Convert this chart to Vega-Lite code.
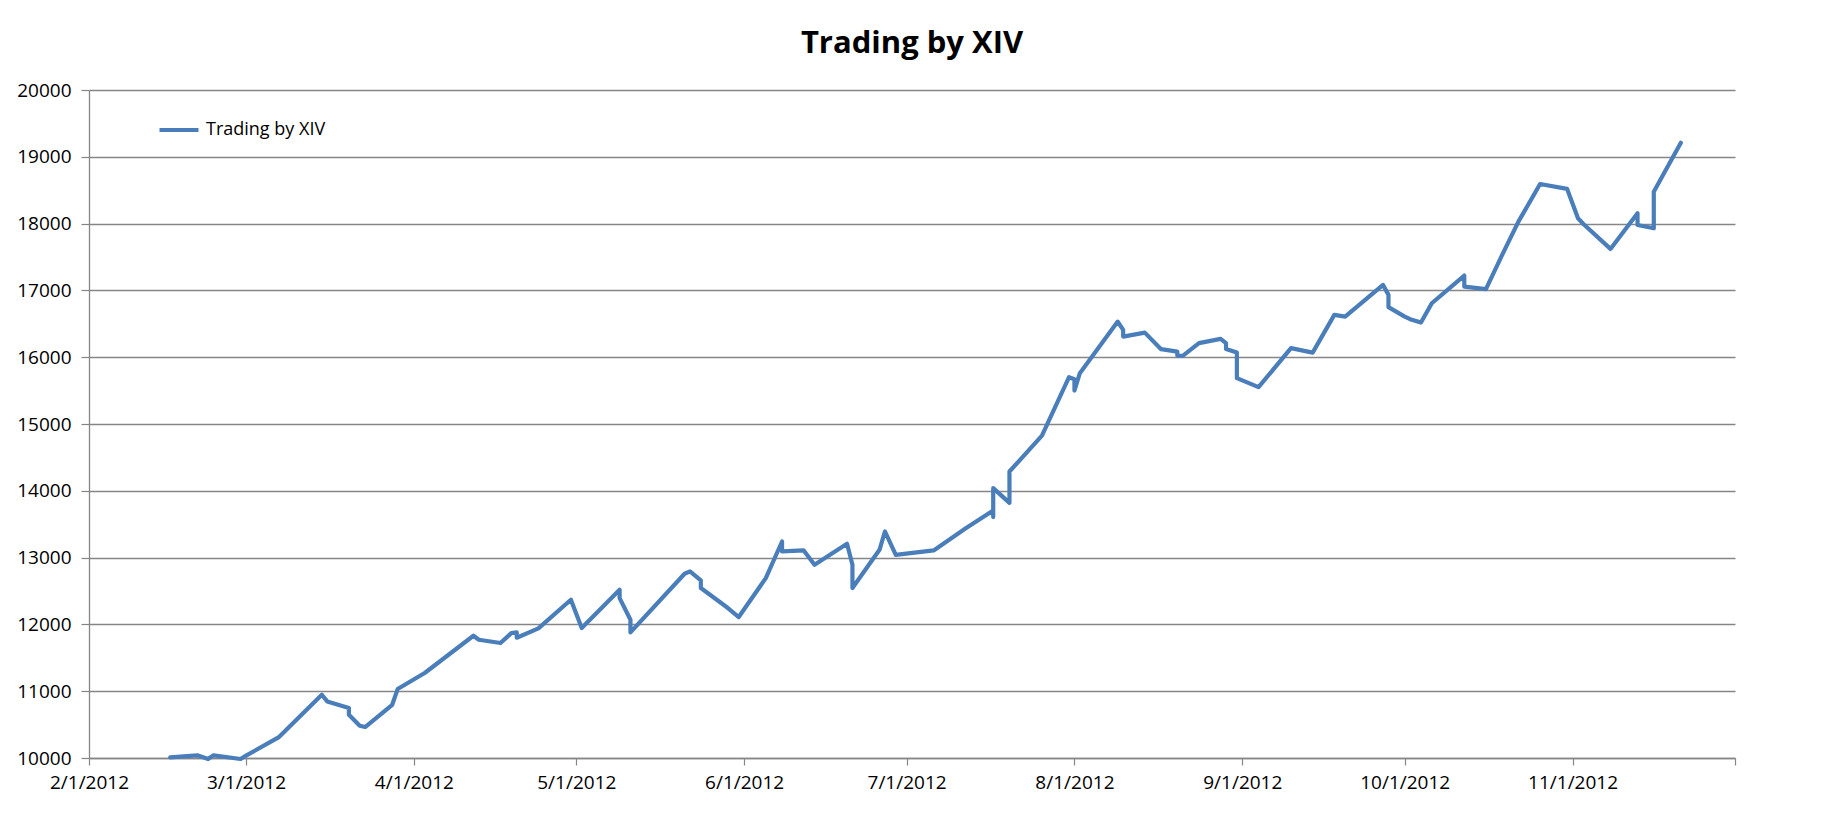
{
  "$schema": "https://vega.github.io/schema/vega-lite/v6.json",
  "width": 1646,
  "height": 668,
  "autosize": {"type": "none"},
  "padding": {"left": 89, "top": 90, "right": 87, "bottom": 56},
  "background": "white",
  "config": {"view": {"stroke": null}, "font": "Open Sans"},
  "title": {"text": "Trading by XIV", "fontSize": 31, "fontWeight": "bold", "font": "Open Sans", "color": "black", "anchor": "middle", "frame": "group", "offset": 21},
  "data": {"values": [
    {"i": 1, "date": "2012-02-16", "value": 10010},
    {"i": 2, "date": "2012-02-21", "value": 10040},
    {"i": 3, "date": "2012-02-23", "value": 9985},
    {"i": 4, "date": "2012-02-24", "value": 10040},
    {"i": 5, "date": "2012-02-29", "value": 9985},
    {"i": 6, "date": "2012-03-01", "value": 10035},
    {"i": 7, "date": "2012-03-07", "value": 10308},
    {"i": 8, "date": "2012-03-15", "value": 10947},
    {"i": 9, "date": "2012-03-16", "value": 10847},
    {"i": 10, "date": "2012-03-20", "value": 10748},
    {"i": 11, "date": "2012-03-20", "value": 10648},
    {"i": 12, "date": "2012-03-22", "value": 10483},
    {"i": 13, "date": "2012-03-23", "value": 10464},
    {"i": 14, "date": "2012-03-28", "value": 10797},
    {"i": 15, "date": "2012-03-29", "value": 11032},
    {"i": 16, "date": "2012-04-03", "value": 11272},
    {"i": 17, "date": "2012-04-12", "value": 11830},
    {"i": 18, "date": "2012-04-13", "value": 11770},
    {"i": 19, "date": "2012-04-17", "value": 11721},
    {"i": 20, "date": "2012-04-19", "value": 11870},
    {"i": 21, "date": "2012-04-20", "value": 11880},
    {"i": 22, "date": "2012-04-20", "value": 11800},
    {"i": 23, "date": "2012-04-24", "value": 11940},
    {"i": 24, "date": "2012-04-30", "value": 12369},
    {"i": 25, "date": "2012-05-02", "value": 11945},
    {"i": 26, "date": "2012-05-09", "value": 12518},
    {"i": 27, "date": "2012-05-09", "value": 12394},
    {"i": 28, "date": "2012-05-11", "value": 12069},
    {"i": 29, "date": "2012-05-11", "value": 11880},
    {"i": 30, "date": "2012-05-21", "value": 12758},
    {"i": 31, "date": "2012-05-22", "value": 12793},
    {"i": 32, "date": "2012-05-24", "value": 12658},
    {"i": 33, "date": "2012-05-24", "value": 12544},
    {"i": 34, "date": "2012-05-29", "value": 12245},
    {"i": 35, "date": "2012-05-31", "value": 12110},
    {"i": 36, "date": "2012-06-05", "value": 12693},
    {"i": 37, "date": "2012-06-08", "value": 13241},
    {"i": 38, "date": "2012-06-08", "value": 13092},
    {"i": 39, "date": "2012-06-12", "value": 13107},
    {"i": 40, "date": "2012-06-14", "value": 12893},
    {"i": 41, "date": "2012-06-20", "value": 13207},
    {"i": 42, "date": "2012-06-21", "value": 12893},
    {"i": 43, "date": "2012-06-21", "value": 12544},
    {"i": 44, "date": "2012-06-26", "value": 13117},
    {"i": 45, "date": "2012-06-27", "value": 13391},
    {"i": 46, "date": "2012-06-29", "value": 13042},
    {"i": 47, "date": "2012-07-06", "value": 13107},
    {"i": 48, "date": "2012-07-12", "value": 13442},
    {"i": 49, "date": "2012-07-17", "value": 13705},
    {"i": 50, "date": "2012-07-17", "value": 13606},
    {"i": 51, "date": "2012-07-17", "value": 14040},
    {"i": 52, "date": "2012-07-20", "value": 13820},
    {"i": 53, "date": "2012-07-20", "value": 14289},
    {"i": 54, "date": "2012-07-26", "value": 14825},
    {"i": 55, "date": "2012-07-31", "value": 15701},
    {"i": 56, "date": "2012-08-01", "value": 15671},
    {"i": 57, "date": "2012-08-01", "value": 15501},
    {"i": 58, "date": "2012-08-02", "value": 15761},
    {"i": 59, "date": "2012-08-09", "value": 16533},
    {"i": 60, "date": "2012-08-10", "value": 16409},
    {"i": 61, "date": "2012-08-10", "value": 16309},
    {"i": 62, "date": "2012-08-14", "value": 16368},
    {"i": 63, "date": "2012-08-17", "value": 16120},
    {"i": 64, "date": "2012-08-20", "value": 16084},
    {"i": 65, "date": "2012-08-20", "value": 16025},
    {"i": 66, "date": "2012-08-21", "value": 16020},
    {"i": 67, "date": "2012-08-24", "value": 16210},
    {"i": 68, "date": "2012-08-28", "value": 16274},
    {"i": 69, "date": "2012-08-29", "value": 16210},
    {"i": 70, "date": "2012-08-29", "value": 16124},
    {"i": 71, "date": "2012-08-31", "value": 16069},
    {"i": 72, "date": "2012-08-31", "value": 15686},
    {"i": 73, "date": "2012-09-04", "value": 15552},
    {"i": 74, "date": "2012-09-10", "value": 16135},
    {"i": 75, "date": "2012-09-14", "value": 16069},
    {"i": 76, "date": "2012-09-18", "value": 16633},
    {"i": 77, "date": "2012-09-20", "value": 16608},
    {"i": 78, "date": "2012-09-27", "value": 17082},
    {"i": 79, "date": "2012-09-28", "value": 16933},
    {"i": 80, "date": "2012-09-28", "value": 16749},
    {"i": 81, "date": "2012-10-01", "value": 16608},
    {"i": 82, "date": "2012-10-02", "value": 16569},
    {"i": 83, "date": "2012-10-04", "value": 16518},
    {"i": 84, "date": "2012-10-06", "value": 16808},
    {"i": 85, "date": "2012-10-12", "value": 17222},
    {"i": 86, "date": "2012-10-12", "value": 17057},
    {"i": 87, "date": "2012-10-16", "value": 17018},
    {"i": 88, "date": "2012-10-19", "value": 17531},
    {"i": 89, "date": "2012-10-22", "value": 18029},
    {"i": 90, "date": "2012-10-26", "value": 18593},
    {"i": 91, "date": "2012-10-31", "value": 18519},
    {"i": 92, "date": "2012-11-02", "value": 18080},
    {"i": 93, "date": "2012-11-03", "value": 17995},
    {"i": 94, "date": "2012-11-08", "value": 17621},
    {"i": 95, "date": "2012-11-13", "value": 18155},
    {"i": 96, "date": "2012-11-13", "value": 17980},
    {"i": 97, "date": "2012-11-16", "value": 17930},
    {"i": 98, "date": "2012-11-16", "value": 18478},
    {"i": 99, "date": "2012-11-21", "value": 19210}
  ]},
  "mark": {"type": "line", "strokeWidth": 4.2, "strokeJoin": "round", "strokeCap": "round", "clip": false},
  "encoding": {
    "x": {
      "field": "date", "type": "temporal",
      "scale": {"type": "utc", "domain": [{"year": 2012, "month": 2, "date": 1, "utc": true}, {"year": 2012, "month": 12, "date": 1, "utc": true}]},
      "axis": {
        "title": null,
        "grid": false,
        "values": [
          {"year": 2012, "month": 2, "date": 1, "utc": true},
          {"year": 2012, "month": 3, "date": 1, "utc": true},
          {"year": 2012, "month": 4, "date": 1, "utc": true},
          {"year": 2012, "month": 5, "date": 1, "utc": true},
          {"year": 2012, "month": 6, "date": 1, "utc": true},
          {"year": 2012, "month": 7, "date": 1, "utc": true},
          {"year": 2012, "month": 8, "date": 1, "utc": true},
          {"year": 2012, "month": 9, "date": 1, "utc": true},
          {"year": 2012, "month": 10, "date": 1, "utc": true},
          {"year": 2012, "month": 11, "date": 1, "utc": true},
          {"year": 2012, "month": 12, "date": 1, "utc": true}
        ],
        "labelExpr": "utcmonth(datum.value) == 11 ? '' : utcFormat(datum.value, '%-m/%-d/%Y')",
        "labelFont": "Open Sans", "labelFontSize": 19, "labelColor": "black",
        "labelFlush": false, "labelOverlap": false,
        "tickSize": 7, "tickColor": "#868686", "tickWidth": 1.2,
        "domainColor": "#868686", "domainWidth": 1.3,
        "labelPadding": 8
      }
    },
    "y": {
      "field": "value", "type": "quantitative",
      "scale": {"domain": [10000, 20000], "nice": false, "zero": false},
      "axis": {
        "title": null,
        "values": [10000, 11000, 12000, 13000, 14000, 15000, 16000, 17000, 18000, 19000, 20000],
        "format": "d",
        "grid": true, "gridColor": "#868686", "gridWidth": 1.3,
        "labelFont": "Open Sans", "labelFontSize": 19, "labelColor": "black",
        "labelFlush": false, "labelOverlap": false,
        "tickSize": 8, "tickColor": "#868686", "tickWidth": 1.2,
        "domainColor": "#868686", "domainWidth": 1.3,
        "labelPadding": 10
      }
    },
    "order": {"field": "i", "type": "quantitative"},
    "color": {
      "datum": "Trading by XIV",
      "scale": {"range": ["#4a7ebb"]},
      "legend": {
        "orient": "none", "legendX": 68, "legendY": 18, "title": null, "padding": 0,
        "symbolType": "stroke", "symbolSize": 1521, "symbolStrokeWidth": 4.2,
        "labelFont": "Open Sans", "labelFontSize": 18, "labelColor": "black", "labelOffset": 5
      }
    }
  }
}
